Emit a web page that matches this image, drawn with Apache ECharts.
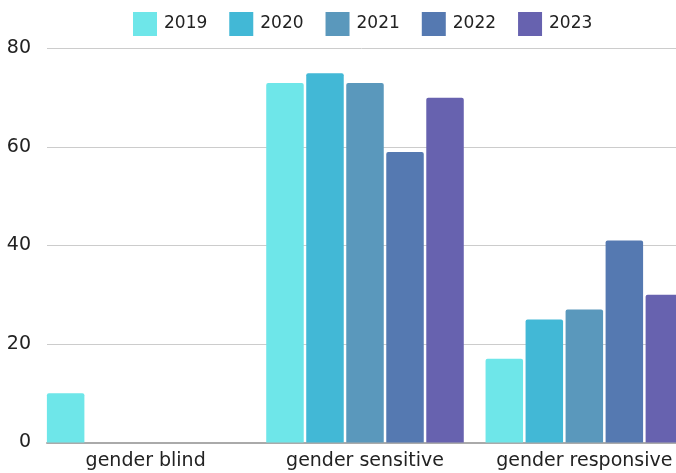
<!DOCTYPE html>
<html>
<head>
<meta charset="utf-8">
<script src="https://cdn.jsdelivr.net/npm/echarts@6/dist/echarts.min.js"></script>
<style>
  html, body { margin: 0; padding: 0; background: #fff; }
  #chart { width: 676px; height: 473px; }
</style>
</head>
<body>
<div id="chart"></div>
<script>
var categories = ['gender blind', 'gender sensitive', 'gender responsive'];
var years = ['2019', '2020', '2021', '2022', '2023'];
var values2019 = [10, 73, 17];
var values2020 = [0, 75, 25];
var values2021 = [0, 73, 27];
var values2022 = [0, 59, 41];
var values2023 = [0, 70, 30];
var colors = ['#6ee6e9', '#42b8d6', '#5a98bc', '#5579b1', '#6762af'];
var yTicks = [0, 20, 40, 60, 80];

var allValues = [values2019, values2020, values2021, values2022, values2023];
var font = 'DejaVu Sans';
var yMin = yTicks[0], yMax = yTicks[yTicks.length - 1];

var myChart = echarts.init(document.getElementById('chart'));
var option = {
    animation: false,
    color: colors,
    textStyle: { fontFamily: font },
    legend: {
        top: 7,
        left: 128,
        itemWidth: 24,
        itemHeight: 24,
        itemGap: 22,
        icon: 'rect',
        textStyle: { fontSize: 17, color: '#222', fontFamily: font, padding: [0, 0, 0, 2] },
        data: years
    },
    // grid 0 holds the bars; it is wider than the canvas, the last bar is cut off like in the original
    // grid 1 only draws the gridlines / baseline, which start a bit further right
    grid: [
        { left: 36, width: 658, top: 48.5, bottom: 30.5, containLabel: false, outerBoundsMode: 'none' },
        { left: 47, right: 0, top: 48.5, bottom: 30.5, containLabel: false, outerBoundsMode: 'none' }
    ],
    xAxis: [
        {
            type: 'category',
            gridIndex: 0,
            data: categories,
            axisTick: { show: false },
            axisLine: { show: false },
            axisLabel: { fontSize: 19, color: '#222', margin: 9, fontFamily: font, interval: 0, hideOverlap: false }
        },
        {
            type: 'value',
            gridIndex: 1,
            min: 0,
            max: 1,
            axisTick: { show: false },
            axisLabel: { show: false },
            splitLine: { show: false },
            axisLine: { lineStyle: { color: '#aaa', width: 2 } }
        }
    ],
    yAxis: [
        {
            type: 'value',
            gridIndex: 0,
            min: yMin,
            max: yMax,
            interval: 20,
            show: false,
            splitLine: { show: false }
        },
        {
            type: 'value',
            gridIndex: 1,
            min: yMin,
            max: yMax,
            interval: 20,
            axisLine: { show: false },
            axisTick: { show: false },
            axisLabel: { fontSize: 19, color: '#222', margin: 16, fontFamily: font },
            splitLine: { lineStyle: { color: '#ccc', width: 1 } }
        }
    ],
    series: years.map(function (y, i) {
        return {
            name: y,
            type: 'bar',
            xAxisIndex: 0,
            yAxisIndex: 0,
            data: allValues[i],
            barWidth: 37.5,
            barGap: '6.7%',
            itemStyle: { borderRadius: [2, 2, 0, 0] }
        };
    })
};
myChart.setOption(option);
</script>
</body>
</html>
